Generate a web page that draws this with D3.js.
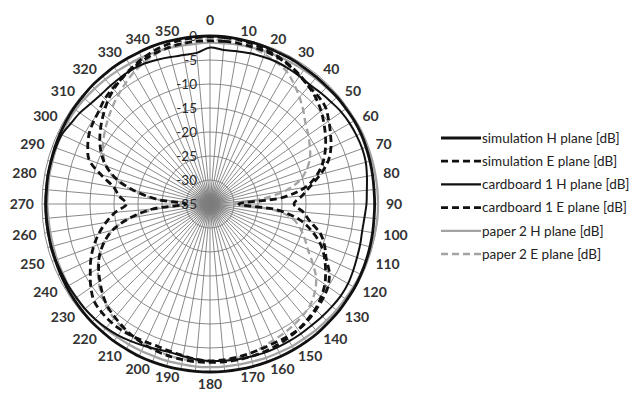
<!DOCTYPE html>
<html>
<head>
<meta charset="utf-8">
<script src="https://d3js.org/d3.v7.min.js"></script>
<style>
  body { margin: 0; background: #fff; }
  svg { display: block; }
  .grid { fill: none; stroke: #7d7d7d; stroke-width: 0.9; }
  .angleLabel { font-family: Lato, sans-serif; font-weight: bold; font-size: 14px; fill: #333; }
  .radLabel { font-family: Lato, sans-serif; font-size: 13.5px; fill: #2a2a2a; }
  .legend text { font-family: Lato, sans-serif; font-size: 13.5px; fill: #222; }
</style>
</head>
<body>
<svg id="chart" width="640" height="394"></svg>
<script>
// angles (deg) of the measured points
const angles = [0,5,10,15,20,25,30,35,40,45,50,55,60,65,70,75,80,85,90,95,100,105,110,115,
  120,125,130,135,140,145,150,155,160,165,170,175,180,185,190,195,200,205,210,215,220,225,230,235,
  240,245,250,255,260,265,270,275,280,285,290,295,300,305,310,315,320,325,330,335,340,345,350,355];

// series values (dB)
const simH = [0,0,-0.1,-0.2,-0.3,-0.4,-0.4,-0.5,-0.5,-0.5,-0.4,-0.4,-0.3,-0.3,-0.4,-0.5,-0.6,-0.7,
  -0.7,-0.7,-0.6,-0.5,-0.4,-0.3,-0.2,-0.2,-0.1,-0.1,0,0,0,0,0,0,0,0,
  0,0,0,0,0,0,-0.1,-0.1,-0.2,-0.2,-0.3,-0.4,-0.5,-0.6,-0.7,-0.7,-0.8,-0.8,
  -0.8,-0.8,-0.7,-0.7,-0.6,-0.5,-0.4,-0.3,-0.3,-0.2,-0.2,-0.1,-0.1,-0.1,0,0,0,0];
const simE = [-0.2,-0.2,-0.3,-0.5,-0.8,-1.2,-1.7,-2.3,-3,-3.8,-4.8,-6,-7.2,-8.5,-10,-12,-14.8,-20,
  -29,-21,-16,-13,-10.5,-8.7,-7.2,-5.8,-4.8,-4,-3.5,-3,-2.7,-2.4,-2.2,-2.1,-2,-2,
  -2,-2,-2.1,-2.2,-2.4,-2.7,-3.1,-3.6,-4.2,-4.8,-5.8,-7,-8.2,-9.6,-11.5,-14,-18,-23,
  -30,-24,-19,-14.8,-12,-10,-8.5,-7.2,-6,-4.8,-3.8,-3,-2.3,-1.6,-1,-0.6,-0.3,-0.2];
const cardH = [-2.4,-2.8,-2.7,-2.5,-2.4,-2.3,-2.4,-2.5,-2.6,-2.3,-2,-1.6,-1.4,-1.3,-1.25,-1.4,-1.8,-2.2,
  -2.4,-2.7,-2.8,-2.6,-2.4,-2.1,-1.8,-1.7,-1.8,-1.9,-2,-2,-2,-2,-2,-2.1,-2.1,-2.2,
  -2.3,-2.5,-2.8,-3,-2.8,-2.4,-2,-1.6,-1.3,-1.1,-1,-1,-0.9,-0.9,-0.8,-0.8,-0.7,-0.7,
  -0.7,-0.7,-0.7,-0.7,-0.8,-0.9,-1.5,-1.9,-2.5,-2.8,-2.8,-2.7,-2.6,-2.7,-3,-3.3,-3.5,-3.4];
const cardE = [-1,-1,-1,-1.1,-1.2,-1.4,-1.8,-2.4,-3,-3.2,-3.6,-4.8,-6,-7.2,-8.8,-11.2,-13.8,-15.8,
  -17.5,-15.5,-13.8,-11.2,-9.6,-8.3,-6.3,-5,-4.3,-3.8,-3.3,-3,-3,-3.1,-3,-2.8,-2.6,-2.4,
  -2.3,-2.5,-2.9,-3.2,-3.4,-3.3,-3.1,-2.9,-2.9,-3.1,-3.5,-4.7,-6.2,-7.6,-9.2,-11,-13,-15.2,
  -17.6,-16,-14.6,-11.5,-8.2,-6.9,-5.9,-5.3,-4.8,-4,-3.5,-3,-2.5,-2,-1.6,-1.3,-1.1,-1];
const paperH = [-1.4,-1.4,-1.3,-1.3,-1.2,-1.1,-1,-0.9,-0.8,-0.7,-0.5,-0.3,-0.1,0,0,0,0,0,
  0,0,-0.1,-0.2,-0.3,-0.4,-0.5,-0.6,-0.6,-0.7,-0.7,-0.8,-0.8,-0.9,-0.9,-1,-1,-1,
  -1,-1,-1.1,-1.1,-1.2,-1.2,-1.2,-1.2,-1.1,-1.1,-1,-1,-1,-1.1,-1.1,-1.2,-1.2,-1.2,
  -1.1,-1.1,-1,-1,-0.9,-0.9,-0.8,-0.8,-0.9,-1,-1.1,-1.2,-1.3,-1.3,-1.4,-1.4,-1.5,-1.5];
const paperE = [-0.8,-0.8,-1,-1.3,-1.8,-2.4,-3.1,-4.5,-6,-7.5,-9,-10,-11,-12,-13.5,-15.5,-19,-25,
  -30,-22,-17.5,-15.6,-14,-12.5,-10.3,-8,-6.5,-5.4,-4.8,-4.4,-4,-3.7,-3.2,-2.8,-2.5,-2.3,
  -2.2,-2.2,-2.2,-2.3,-2.5,-2.7,-3,-3.4,-3.9,-4.6,-5.5,-6.7,-8,-9.6,-11.5,-14,-18,-24,
  -30,-24,-18.5,-14.5,-12,-10.5,-9.3,-8.3,-7.3,-6.3,-5.3,-4.3,-3.3,-2.5,-1.8,-1.3,-1,-0.8];

// tick labels
const angleTicks = [0,10,20,30,40,50,60,70,80,90,100,110,120,130,140,150,160,170,
  180,190,200,210,220,230,240,250,260,270,280,290,300,310,320,330,340,350];
const dbTicks = [-35,-30,-25,-20,-15,-10,-5,0];
const spokes = d3.range(0, 360, 5);

const seriesNames = ["simulation H plane [dB]", "simulation E plane [dB]", "cardboard 1 H plane [dB]",
  "cardboard 1 E plane [dB]", "paper 2 H plane [dB]", "paper 2 E plane [dB]"];
const seriesValues = [simH, simE, cardH, cardE, paperH, paperE];
const seriesStyle = [
  {color: "#111", width: 2.8, dash: null},
  {color: "#111", width: 2.8, dash: "7,4"},
  {color: "#111", width: 2, dash: null},
  {color: "#111", width: 2.8, dash: "7,4"},
  {color: "#a3a3a3", width: 2.3, dash: null},
  {color: "#a3a3a3", width: 2.3, dash: "7,4"}
];

const cx = 210, cy = 204;
const r = d3.scaleLinear().domain([-35, 0]).range([0, 168]);
const rad = d => d * Math.PI / 180;

const svg = d3.select("#chart");

// soft dark blob at the pole
const grad = svg.append("defs").append("radialGradient").attr("id", "pole");
grad.append("stop").attr("offset", "0%").attr("stop-color", "#444").attr("stop-opacity", 0.9);
grad.append("stop").attr("offset", "45%").attr("stop-color", "#777").attr("stop-opacity", 0.6);
grad.append("stop").attr("offset", "100%").attr("stop-color", "#bbb").attr("stop-opacity", 0);

const g = svg.append("g").attr("transform", "translate(" + cx + "," + cy + ")");

g.append("circle")
    .attr("r", r(-30))
    .attr("fill", "url(#pole)");

// spokes
g.selectAll(".spoke")
    .data(spokes)
  .enter().append("line")
    .attr("class", "grid")
    .attr("x1", 0).attr("y1", 0)
    .attr("x2", d => r(0) * Math.sin(rad(d)))
    .attr("y2", d => -r(0) * Math.cos(rad(d)));

// rings
g.selectAll(".ring")
    .data(dbTicks.filter(d => d > -35))
  .enter().append("circle")
    .attr("class", "grid")
    .attr("r", d => r(d));

// radial labels
g.selectAll(".radLabel")
    .data(dbTicks)
  .enter().append("text")
    .attr("class", "radLabel")
    .attr("x", -13)
    .attr("y", d => -r(d))
    .attr("dy", "0.35em")
    .attr("text-anchor", "end")
    .text(d => d);

// series
const line = d3.lineRadial()
    .angle(d => rad(d[0]))
    .radius(d => r(d[1]))
    .curve(d3.curveCatmullRomClosed.alpha(0.5));

// draw grey first, then black on top
[4, 5, 2, 0, 3, 1].forEach(i => {
  const s = seriesStyle[i];
  g.append("path")
      .datum(angles.map((a, j) => [a, seriesValues[i][j]]))
      .attr("d", line)
      .attr("fill", "none")
      .attr("stroke", s.color)
      .attr("stroke-width", s.width)
      .attr("stroke-dasharray", s.dash)
      .attr("stroke-linejoin", "round");
});

// angle labels: left half right-aligned, right half left-aligned
const labelR = a => r(0) + (a === 0 ? 16 : a === 180 ? 12 : 8);

g.selectAll(".angleLabel")
    .data(angleTicks)
  .enter().append("text")
    .attr("class", "angleLabel")
    .attr("text-anchor", d => d % 180 === 0 ? "middle" : (d < 180 ? "start" : "end"))
    .attr("dy", "0.36em")
    .attr("x", d => labelR(d) * Math.sin(rad(d)))
    .attr("y", d => -labelR(d) * Math.cos(rad(d)))
    .text(d => d);

// legend
const legend = svg.append("g").attr("class", "legend")
    .attr("transform", "translate(441,138)");

const item = legend.selectAll(".item")
    .data(seriesNames)
  .enter().append("g")
    .attr("transform", (d, i) => "translate(0," + (i * 23.2) + ")");

item.append("line")
    .attr("x1", 0).attr("x2", 40)
    .attr("stroke", (d, i) => seriesStyle[i].color)
    .attr("stroke-width", (d, i) => Math.max(seriesStyle[i].width, 2.2))
    .attr("stroke-dasharray", (d, i) => seriesStyle[i].dash);

item.append("text")
    .attr("x", 41)
    .attr("dy", "0.35em")
    .text(d => d);
</script>
</body>
</html>
